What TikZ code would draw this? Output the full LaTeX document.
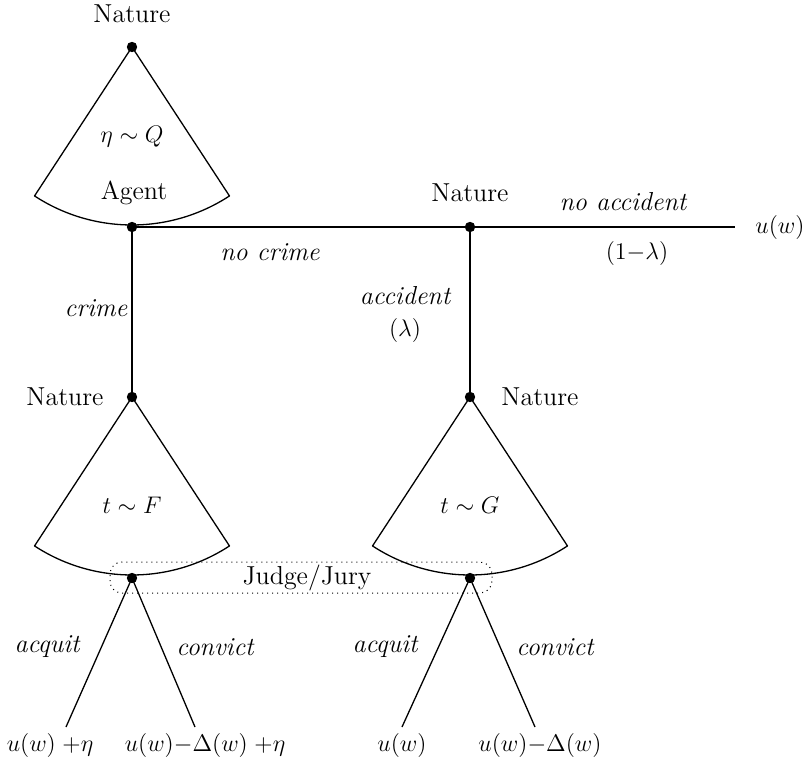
\documentclass[tikz,border=0pt]{standalone}
\usetikzlibrary{calc}
\begin{document}
\begin{tikzpicture}[x=0.5pt,y=0.5pt,
  every node/.style={font=\fontsize{13}{15.5}\selectfont},
  dot/.style={circle,fill=black,inner sep=0pt,minimum size=5.2pt},
  edge/.style={line width=0.65pt},
  lbl/.style={inner sep=1pt},
  act/.style={lbl,font=\fontsize{13}{15.5}\selectfont\itshape},
  sector/.style={line width=0.65pt,line join=round},
  infoset/.style={dotted,line width=0.5pt,rounded corners=6pt}]
\useasboundingbox (0,0) rectangle (804,778);

% decision points
\node[dot] (nat0) at (132,731) {};
\node[dot] (agent) at (132,551) {};
\node[dot] (nat1) at (470,551) {};
\node[dot] (nat2) at (132,381) {};
\node[dot] (nat3) at (470,381) {};
\node[dot] (jL) at (132,200) {};
\node[dot] (jR) at (470,200) {};
\coordinate (end1) at (735,551);
\coordinate (aL) at (66,51);
\coordinate (cL) at (195,51);
\coordinate (aR) at (402,51);
\coordinate (cR) at (535,51);

% chance sectors (type draws)
\foreach \a in {nat0,nat2,nat3}
  \draw[sector] (\a.center) -- ++(-123.2:89pt) arc[start angle=-123.2,end angle=-56.8,radius=89pt] -- cycle;

% information set of the court
\draw[infoset] (110,185) rectangle (492,216);

% branches
\draw[edge] (agent.center) -- (end1);
\draw[edge] (agent.center) -- (nat2.center);
\draw[edge] (nat1.center) -- (nat3.center);
\draw[edge] (jL.center) -- (aL);
\draw[edge] (jL.center) -- (cL);
\draw[edge] (jR.center) -- (aR);
\draw[edge] (jR.center) -- (cR);

% player labels
\node[lbl] (tNat0) at (132,764) {Nature};
\node[lbl] (tAgent) at (134,585) {Agent};
\node[lbl] (tNat1) at (470,585) {Nature};
\node[lbl] (tNat2) at (65,381) {Nature};
\node[lbl] (tNat3) at (540,381) {Nature};
\node[lbl] (tJudge) at (307,200) {Judge/Jury};

% distributions
\node[lbl] (dQ) at (132,641) {$\eta \sim Q$};
\node[lbl] (dF) at (132,273) {$t \sim F$};
\node[lbl] (dG) at (470,273) {$t \sim G$};

% action labels
\node[act] (lNoCrime) at (270,526) {no crime};
\node[act] (lCrime) at (96,470) {crime};
\node[act] (lAcc) at (405,482) {accident};
\node[lbl] (pAcc) at (405,447) {$(\lambda)$};
\node[act] (lNoAcc) at (623,576) {no accident};
\node[lbl] (pNoAcc) at (637,524) {$(1{-}\lambda)$};
\node[act] (lAqL) at (47,131) {acquit};
\node[act] (lCvL) at (215,131) {convict};
\node[act] (lAqR) at (385,131) {acquit};
\node[act] (lCvR) at (555,131) {convict};

% payoffs
\node[lbl] (pay0) at (780,550) {$u(w)$};
\node[lbl] (pay1) at (50,33) {$u(w)\;{+}\eta$};
\node[lbl] (pay2) at (205,33) {$u(w){-}\Delta(w)\;{+}\eta$};
\node[lbl] (pay3) at (402,33) {$u(w)$};
\node[lbl] (pay4) at (540,33) {$u(w){-}\Delta(w)$};
\end{tikzpicture}
\end{document}
